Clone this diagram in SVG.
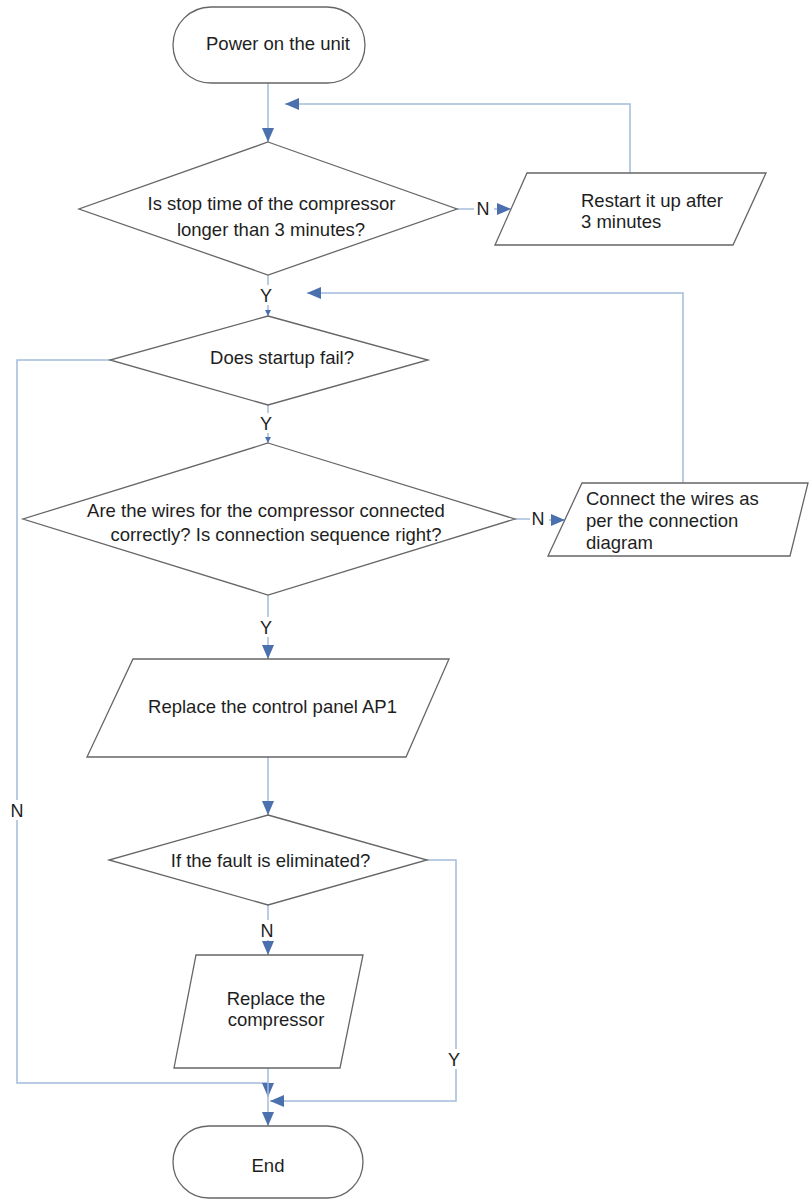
<svg xmlns="http://www.w3.org/2000/svg" width="809" height="1199" viewBox="0 0 809 1199">
  <style>
    .shape { fill: #ffffff; stroke: #666666; stroke-width: 1.3; }
    .conn { fill: none; stroke: #a4bbdc; stroke-width: 1.5; }
    .txt { font-family: "Liberation Sans", Arial, sans-serif; font-size: 18.5px; fill: #1e1e1e; }
    .mid { text-anchor: middle; }
    .lbl { font-family: "Liberation Sans", Arial, sans-serif; font-size: 18px; fill: #1e1e1e; text-anchor: middle; }
    .bg { fill: #ffffff; }
  </style>
  <defs>
    <marker id="arr" viewBox="0 0 14 12" refX="14" refY="6" markerWidth="14" markerHeight="12" markerUnits="userSpaceOnUse" orient="auto">
      <path d="M0,0 L14,6 L0,12 z" fill="#4a70ae"/>
    </marker>
    <marker id="arrs" viewBox="0 0 6 6" refX="6" refY="3" markerWidth="6" markerHeight="6" markerUnits="userSpaceOnUse" orient="auto">
      <path d="M0,0 L6,3 L0,6 z" fill="#4a70ae"/>
    </marker>
  </defs>
  <rect width="809" height="1199" fill="#ffffff"/>

  <g id="connectors">
    <path class="conn" d="M268,83 L268,142" marker-end="url(#arr)"/>
    <path class="conn" d="M630,173 L630,104 L285,104" marker-end="url(#arr)"/>
    <path class="conn" d="M457,209 L474,209"/>
    <path class="conn" d="M494,209 L511,209" marker-end="url(#arr)"/>
    <path class="conn" d="M268,275 L268,316" marker-end="url(#arrs)"/>
    <path class="conn" d="M683,483 L683,293 L307,293" marker-end="url(#arr)"/>
    <path class="conn" d="M110,360 L17,360 L17,1083 L268,1083 L268,1097" marker-end="url(#arr)"/>
    <path class="conn" d="M268,405 L268,443" marker-end="url(#arrs)"/>
    <path class="conn" d="M515,519 L530,519"/>
    <path class="conn" d="M549,520 L565,520" marker-end="url(#arr)"/>
    <path class="conn" d="M268,595 L268,659" marker-end="url(#arr)"/>
    <path class="conn" d="M268,757 L268,815" marker-end="url(#arr)"/>
    <path class="conn" d="M268,905 L268,955" marker-end="url(#arr)"/>
    <path class="conn" d="M427,860 L456,860 L456,1101 L270,1101" marker-end="url(#arr)"/>
    <path class="conn" d="M268,1068 L268,1126" marker-end="url(#arr)"/>
    <g id="labels">
      <rect class="bg" x="474" y="198" width="18" height="20"/>
      <text class="lbl" x="483" y="215">N</text>
      <rect class="bg" x="258" y="285" width="18" height="20"/>
      <text class="lbl" x="266" y="302">Y</text>
      <rect class="bg" x="258" y="413" width="18" height="20"/>
      <text class="lbl" x="266" y="430">Y</text>
      <rect class="bg" x="530" y="509" width="18" height="20"/>
      <text class="lbl" x="538" y="525">N</text>
      <rect class="bg" x="258" y="617" width="18" height="20"/>
      <text class="lbl" x="266" y="634">Y</text>
      <rect class="bg" x="8" y="800" width="18" height="20"/>
      <text class="lbl" x="17" y="817">N</text>
      <rect class="bg" x="258" y="920" width="18" height="20"/>
      <text class="lbl" x="267" y="937">N</text>
      <rect class="bg" x="445" y="1049" width="20" height="20"/>
      <text class="lbl" x="454" y="1066">Y</text>
    </g>
  </g>

  <g id="start">
    <rect class="shape" x="173" y="7" width="192" height="76" rx="38" ry="38"/>
    <text class="txt mid" x="278" y="50">Power on the unit</text>
  </g>

  <g id="check-stop-time">
    <polygon class="shape" points="268,142 457,209 268,275 79,209"/>
    <text class="txt mid" x="271.5" y="210">Is stop time of the compressor</text>
    <text class="txt mid" x="271" y="236">longer than 3 minutes?</text>
  </g>

  <g id="restart">
    <polygon class="shape" points="527,173 766,173 733,245 495,245"/>
    <text class="txt" x="581" y="207">Restart it up after</text>
    <text class="txt" x="581" y="228">3 minutes</text>
  </g>

  <g id="startup-fail">
    <polygon class="shape" points="268,316 428,360 268,405 110,360"/>
    <text class="txt mid" x="282" y="364">Does startup fail?</text>
  </g>

  <g id="check-wires">
    <polygon class="shape" points="268,443 515,519 268,595 23,519"/>
    <text class="txt mid" x="266" y="517">Are the wires for the compressor connected</text>
    <text class="txt mid" x="276" y="541">correctly? Is connection sequence right?</text>
  </g>

  <g id="connect-wires">
    <polygon class="shape" points="582,483 808,483 790,556 548,556"/>
    <text class="txt" x="586" y="505">Connect the wires as</text>
    <text class="txt" x="586" y="527">per the connection</text>
    <text class="txt" x="586" y="549">diagram</text>
  </g>

  <g id="replace-panel">
    <polygon class="shape" points="133,659 449,659 406,757 87,757"/>
    <text class="txt mid" x="272.5" y="713">Replace the control panel AP1</text>
  </g>

  <g id="fault-eliminated">
    <polygon class="shape" points="268,815 427,860 268,905 109,860"/>
    <text class="txt mid" x="270.5" y="867">If the fault is eliminated?</text>
  </g>

  <g id="replace-compressor">
    <polygon class="shape" points="196,955 363,955 340,1068 174,1068"/>
    <text class="txt mid" x="276" y="1005">Replace the</text>
    <text class="txt mid" x="276" y="1026">compressor</text>
  </g>

  <g id="end">
    <rect class="shape" x="173" y="1126" width="190" height="72" rx="36" ry="36"/>
    <text class="txt mid" x="268" y="1172">End</text>
  </g>
</svg>
